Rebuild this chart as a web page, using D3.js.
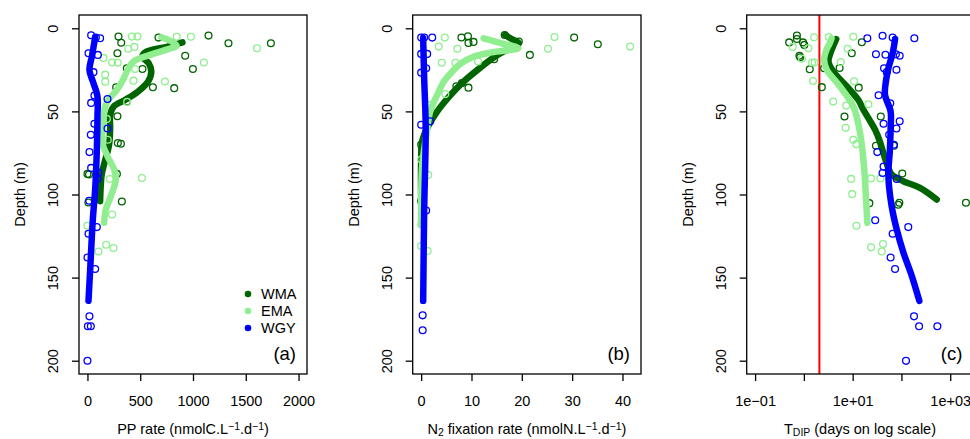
<!DOCTYPE html>
<html>
<head>
<meta charset="utf-8">
<script src="https://cdn.jsdelivr.net/npm/d3@7"></script>
<style>
  body { margin: 0; background: #fff; }
  svg { display: block; font-family: "Liberation Sans", Arial, sans-serif; }
</style>
</head>
<body>
<svg id="chart" width="970" height="439"></svg>
<script>
// ---- data: [depth (m), value] ----
var regions = ["WMA", "EMA", "WGY"];
var depthTicks = [0, 50, 100, 150, 200];

// (a) PP rate
var ppWMA = [[5,294],[8.7,320],[5.6,673],[4.4,1147],[9,1336],[9,1738],[16.5,926],[15,284],[24.5,999],[24,373],[24.5,521],[35.5,620],[36,822],[35.5,272],[44,376],[52.9,284],[69,288],[69.5,317],[87.6,0],[88,15],[87.6,279],[104.8,9],[104.2,326]];
var ppEMA = [[5,421],[5,474],[5.1,845],[5.1,980],[12.3,386],[11.2,445],[12,1606],[17.8,152],[20.6,234],[20.7,287],[20.6,1103],[24.5,452],[27.9,168],[32.1,168],[31.5,436],[32,734],[44.3,376],[54.5,184],[67.1,193],[90.1,516],[90.7,212],[112,234],[118.8,0],[130.2,177],[134.3,104],[132.2,246]];
var ppWGY = [[4.2,35],[6,120],[5.6,80],[15,10],[16,99],[26.4,57],[40.5,66],[42.5,190],[44.9,35],[57.5,66],[60.3,190],[64.1,32],[74.5,19],[84,35],[86.8,104],[90.7,95],[103.8,16],[119.6,89],[123.6,10],[137.9,0],[144.8,73],[173.3,19],[179.3,4],[179.3,32],[200,0]];
var ppWMAfit = [[8.5,900],[11,760],[14,560],[17,520],[21,580],[26,605],[32,575],[38,480],[43,360],[47,250],[52,215],[60,215],[70,205],[80,165],[88,135],[96,125],[104,120]];
var ppEMAfit = [[5.4,700],[8,800],[10.5,845],[13,740],[16,594],[20,436],[25,380],[30,345],[37,279],[45,180],[55,150],[69,142],[77,190],[85,253],[91,269],[101,222],[109,174],[117,158]];
var ppWGYfit = [[5.4,73],[17,42],[25,19],[33,57],[41,95],[53,95],[73,89],[97,73],[115,51],[145,26],[164,10]];
var ppTicks = [0, 500, 1000, 1500, 2000];

// (b) N2 fixation rate
var n2WMA = [[5.5,8],[4.8,9.3],[8.8,9.4],[8.2,10.4],[4,16.6],[8,19.4],[16,21.6],[5.6,30.4],[9.6,35.1],[18.6,14.5],[34.9,7],[32.9,8.1],[35.7,9.4],[70,0],[104,0]];
var n2EMA = [[5.6,4.7],[11,3.5],[12.3,7.2],[20.7,4.1],[20.7,6.8],[20,11.3],[39.6,4.8],[46.1,1.8],[5.2,26.5],[12.3,25.2],[11,41.5],[88.2,1.4],[79,0],[118,0],[131,0],[134,1.3]];
var n2WGY = [[5.6,0],[5.6,0.6],[5.6,2.2],[15.4,0],[15.4,1.2],[24,1],[26.7,0],[56,1.8],[58,0],[109.6,1],[172.7,0.3],[181.7,0.3]];
var n2WMAfit = [[4,16.7],[6.5,18],[9,19.4],[13,17],[17,14.7],[25,11.2],[33,8.1],[41,5.6],[50,3.2],[60,1.2],[68,0.2],[80,0],[105,0]];
var n2EMAfit = [[6,12.4],[9,16],[12,19.3],[14.5,14],[17,10.5],[21,8],[26,6.2],[33,4.3],[40,3.2],[50,1.8],[63,1.1],[83,0.2],[118,0]];
var n2WGYfit = [[6,0.4],[30,0.6],[60,0.9],[110,0.6],[164,0.4]];
var n2Ticks = [0, 10, 20, 30, 40];

// (c) T_DIP (days)
var tdWMA = [[4.4,0.72],[6.4,0.72],[8.5,0.5],[8.5,0.96],[10,1.02],[16.5,0.81],[17.4,0.84],[24.6,1.32],[8.4,15.4],[15,9.6],[23.9,5.4],[24,2.6],[35.4,2.33],[35.7,13.3],[53.1,6.8],[53.1,37.7],[70.7,30],[70.7,70.5],[87.4,104],[105,2100],[105,90.6],[106.2,86],[105.2,22]];
var tdEMA = [[5.4,1.62],[5.2,3.24],[5.1,10.3],[11.2,0.59],[12,1.24],[12.3,7.9],[18.3,0.91],[20.6,1.47],[20.6,1.66],[20.3,5.7],[31.7,1.54],[31.9,10.7],[44.1,4.0],[46.5,7.4],[45.7,21],[59.9,7.2],[67.1,10.3],[69.7,11.9],[90.6,9.3],[99.8,9.8],[90.3,23.8],[90.3,37],[118.8,12],[131.8,23.8],[134.3,39.5],[129.8,42]];
var tdWGY = [[6,20],[4.5,41],[5.6,66],[6,184],[15.6,30],[15.9,47],[15.6,77],[16.5,92],[24,44],[24.9,79],[26.3,50],[40.3,34],[45.1,59],[57.4,43],[55.9,92],[60.3,79],[64.1,56],[70.1,70],[74.5,32],[83.2,43],[87.1,41],[90.7,80],[115.5,29],[119.6,138],[123.6,66],[137.9,60],[144.8,74],[173.3,181],[179.3,230],[179.3,545],[200.1,124]];
var tdWMAfit = [[6.5,4.6],[14,3.6],[20,3.2],[26,4.0],[35,7.6],[43,13],[49,16.6],[55,22],[61,28.8],[68,36],[75,42.6],[84,53.7],[88,63],[92,109],[96,240],[103,529]];
var tdEMAfit = [[6,3.7],[9,3.4],[13,2.9],[19,2.6],[25,2.95],[35,5.5],[47,10.3],[63,14.2],[83,17.1],[103,18.8],[117,20]];
var tdWGYfit = [[6.4,74],[15,66],[24,54],[32,48],[40,46],[50,60],[60,60],[73,58],[89,54],[107,63],[121,80],[135,110],[149,163],[164,233]];
var tdTicks = [0.1, 1, 10, 100, 1000];
var tdLabels = ["1e\u221201", "", "1e+01", "", "1e+03"];
var tdThreshold = 2.08;

// ---- styles ----
var colour = { WMA: "#006400", EMA: "#90EE90", WGY: "#0000FF" };
var fontSize = 14.5;

var svg = d3.select("#chart");
svg.append("rect").attr("width", 970).attr("height", 439).attr("fill", "#fff");

var plotTop = 15, plotBottom = 374;
var y = d3.scaleLinear().domain([-8, 208]).range([plotTop, plotBottom]);

var panels = [
  { left: 79, right: 307, x: d3.scaleLinear().domain([-80, 2080]),
    pts: [ppWMA, ppEMA, ppWGY], fits: [ppWMAfit, ppEMAfit, ppWGYfit],
    ticks: ppTicks, labels: ppTicks.map(String), tag: "(a)", legend: true,
    title: [["PP rate (nmolC.L"], ["\u22121", "sup"], [".d"], ["\u22121", "sup"], [")"]] },
  { left: 412.7, right: 641, x: d3.scaleLinear().domain([-1.68, 43.68]),
    pts: [n2WMA, n2EMA, n2WGY], fits: [n2WMAfit, n2EMAfit, n2WGYfit],
    ticks: n2Ticks, labels: n2Ticks.map(String), tag: "(b)",
    title: [["N"], ["2", "sub"], [" fixation rate (nmolN.L"], ["\u22121", "sup"], [".d"], ["\u22121", "sup"], [")"]] },
  { left: 746.7, right: 973.3, x: d3.scaleLog().domain([Math.pow(10, -1.172), Math.pow(10, 3.473)]),
    pts: [tdWMA, tdEMA, tdWGY], fits: [tdWMAfit, tdEMAfit, tdWGYfit],
    ticks: tdTicks, labels: tdLabels, tag: "(c)", threshold: tdThreshold,
    title: [["T"], ["DIP", "sub"], [" (days on log scale)"]] }
];

panels.forEach(function(p) {
  p.x.range([p.left, p.right]);
  var g = svg.append("g");
  var clipId = "clip" + Math.round(p.left);
  g.append("clipPath").attr("id", clipId)
    .append("rect").attr("x", p.left).attr("y", plotTop)
    .attr("width", p.right - p.left).attr("height", plotBottom - plotTop);

  var plot = g.append("g").attr("clip-path", "url(#" + clipId + ")");

  if (p.threshold) {
    plot.append("line")
      .attr("x1", p.x(p.threshold)).attr("x2", p.x(p.threshold))
      .attr("y1", plotTop).attr("y2", plotBottom)
      .attr("stroke", "#FF0000").attr("stroke-width", 2);
  }

  var line = d3.line()
    .x(function(d) { return p.x(d[1]); })
    .y(function(d) { return y(d[0]); })
    .curve(d3.curveCatmullRom.alpha(0.5));

  regions.forEach(function(r, i) {
    plot.selectAll(".pt" + r)
      .data(p.pts[i])
    .enter().append("circle")
      .attr("cx", function(d) { return p.x(d[1]); })
      .attr("cy", function(d) { return y(d[0]); })
      .attr("r", 3.4)
      .attr("fill", "none")
      .attr("stroke", colour[r])
      .attr("stroke-width", 1.3);

    plot.append("path")
      .datum(p.fits[i])
      .attr("d", line)
      .attr("fill", "none")
      .attr("stroke", colour[r])
      .attr("stroke-width", 6.5)
      .attr("stroke-linecap", "round")
      .attr("stroke-linejoin", "round");
  });

  // box
  g.append("rect")
    .attr("x", p.left).attr("y", plotTop)
    .attr("width", p.right - p.left).attr("height", plotBottom - plotTop)
    .attr("fill", "none").attr("stroke", "#000").attr("stroke-width", 1.3);

  // x axis
  var xa = g.append("g")
    .attr("transform", "translate(0," + plotBottom + ")")
    .call(d3.axisBottom(p.x).tickValues(p.ticks).tickSize(7).tickSizeOuter(0)
      .tickFormat(function(d, i) { return p.labels[i]; }));
  xa.select(".domain").remove();
  xa.selectAll(".tick line").attr("stroke", "#000").attr("stroke-width", 1.3);
  xa.selectAll(".tick text")
    .attr("y", 32).attr("dy", null)
    .attr("fill", "#000").attr("font-size", fontSize)
    .attr("font-family", "Liberation Sans, Arial, sans-serif");

  // y axis
  var ya = g.append("g")
    .attr("transform", "translate(" + p.left + ",0)")
    .call(d3.axisLeft(y).tickValues(depthTicks).tickSize(7).tickSizeOuter(0));
  ya.select(".domain").remove();
  ya.selectAll(".tick line").attr("stroke", "#000").attr("stroke-width", 1.3);
  ya.selectAll(".tick text")
    .attr("x", null).attr("dy", null)
    .attr("transform", "translate(-21,0) rotate(-90)")
    .attr("text-anchor", "middle")
    .attr("fill", "#000").attr("font-size", fontSize)
    .attr("font-family", "Liberation Sans, Arial, sans-serif");

  // axis titles
  g.append("text")
    .attr("transform", "translate(" + (p.left - 54) + "," + ((plotTop + plotBottom) / 2) + ") rotate(-90)")
    .attr("text-anchor", "middle")
    .attr("font-size", fontSize)
    .text("Depth (m)");

  var xt = g.append("text")
    .attr("x", (p.left + p.right) / 2).attr("y", 434)
    .attr("text-anchor", "middle")
    .attr("font-size", fontSize);
  p.title.forEach(function(t) {
    var ts = xt.append("tspan").text(t[0]);
    if (t[1] === "sup") ts.attr("font-size", fontSize * 0.72).attr("baseline-shift", "38%");
    if (t[1] === "sub") ts.attr("font-size", fontSize * 0.72).attr("baseline-shift", "-20%");
  });

  // panel tag
  g.append("text")
    .attr("x", p.right - 11).attr("y", 360)
    .attr("text-anchor", "end")
    .attr("font-size", 18.5)
    .text(p.tag);

  if (p.legend) {
    var lg = g.selectAll(".legend")
      .data(regions)
    .enter().append("g")
      .attr("transform", function(d, i) { return "translate(" + (p.right - 59) + "," + (294 + i * 17) + ")"; });
    lg.append("circle").attr("r", 3.3).attr("fill", function(d) { return colour[d]; });
    lg.append("text")
      .attr("x", 13).attr("y", 5.2)
      .attr("font-size", fontSize)
      .text(function(d) { return d; });
  }
});
</script>
</body>
</html>
